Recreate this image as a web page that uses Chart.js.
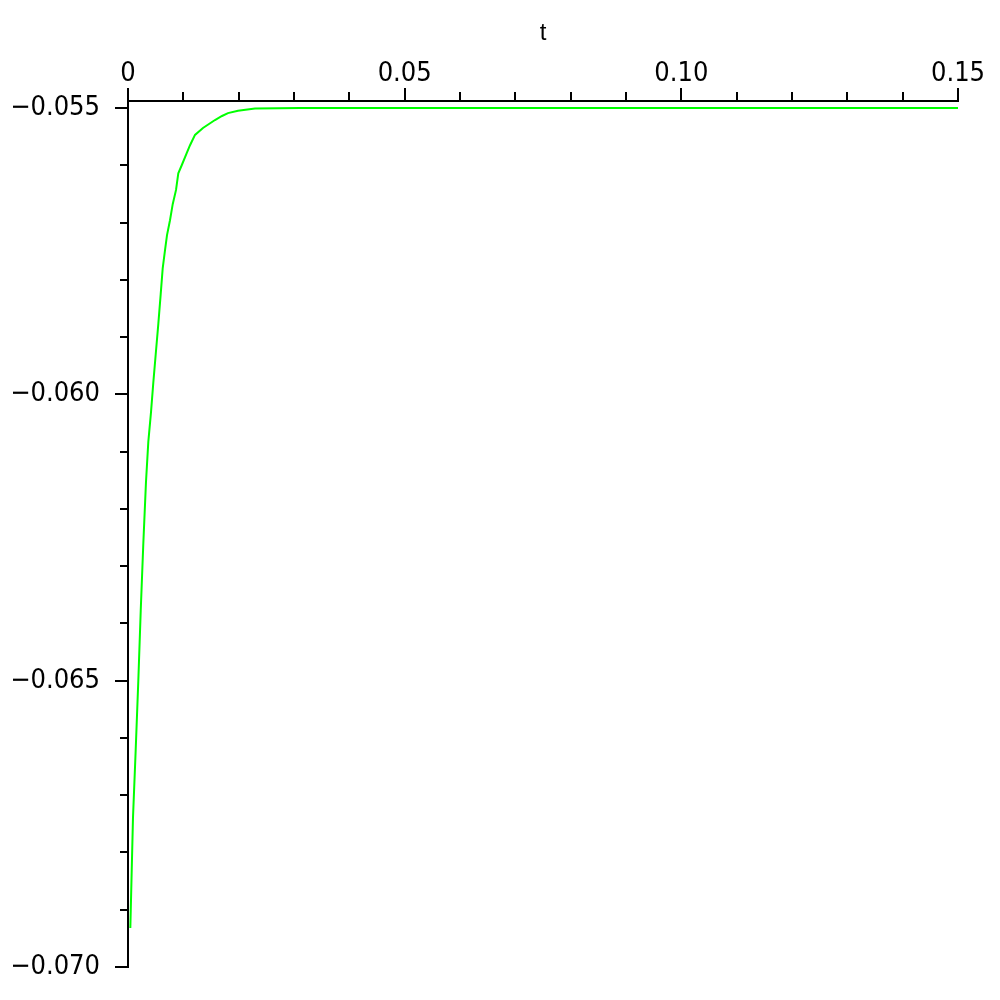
<!doctype html>
<html lang="en">

<head>
  <meta charset="utf-8">
  <title>t plot</title>
  <style>
    html, body { margin: 0; padding: 0; background: #fff; overflow: hidden; }
    canvas { display: block; }
  </style>
</head>

<body>

  <canvas id="plot" width="1000" height="1000"></canvas>

  <script src="https://cdn.jsdelivr.net/npm/chart.js"></script>

  <script>

    // curve (t, value)
    const tValues = [0.00042, 0.00090, 0.00139, 0.00186, 0.00230, 0.00277, 0.00325, 0.00367,
      0.00416, 0.00457, 0.00501, 0.00548, 0.00591, 0.00627, 0.00669, 0.00705, 0.00759, 0.00808,
      0.00868, 0.00909, 0.00971, 0.01061, 0.01121, 0.01211, 0.01355, 0.01572, 0.01699, 0.01807,
      0.01988, 0.02295, 0.03108, 0.15];
    const yValues = [-0.06932, -0.06740, -0.06621, -0.06501, -0.06378, -0.06260, -0.06153, -0.06083,
      -0.06031, -0.05980, -0.05930, -0.05877, -0.05825, -0.05780, -0.05748, -0.05722, -0.05696, -0.05668,
      -0.05643, -0.05614, -0.05600, -0.05579, -0.05565, -0.05547, -0.05535, -0.05521, -0.05514, -0.05509,
      -0.05505, -0.05501, -0.05500, -0.05500];

    const xTickValues = [0, 0.05, 0.10, 0.15];
    const xTickLabels = ['0', '0.05', '0.10', '0.15'];
    const yTickValues = [-0.070, -0.065, -0.060, -0.055];
    const yTickLabels = ['\u22120.070', '\u22120.065', '\u22120.060', '\u22120.055'];

    const labelFont = { family: "'DejaVu Sans Condensed', 'DejaVu Sans', sans-serif", size: 27 };

    // maple style tick marks: long at labelled values, short in between
    const tickMarks = {
      id: 'tickMarks',
      afterDraw(chart) {
        const ctx = chart.ctx;
        const xs = chart.scales.x;
        const ys = chart.scales.y;
        const area = chart.chartArea;
        ctx.save();
        ctx.strokeStyle = '#000';
        ctx.lineWidth = 2;
        ctx.beginPath();
        for (let i = 0; i <= 15; i++) {
          const v = i * 0.01;
          const px = Math.round(xs.getPixelForValue(v));
          const len = (i % 5 == 0) ? 13 : 9;
          ctx.moveTo(px, area.top);
          ctx.lineTo(px, area.top - len);
        }
        for (let i = 0; i <= 15; i++) {
          const v = -0.070 + i * 0.001;
          const py = Math.round(ys.getPixelForValue(v));
          const len = (i % 5 == 0) ? 13 : 8;
          ctx.moveTo(area.left, py);
          ctx.lineTo(area.left - len, py);
        }
        ctx.stroke();
        ctx.restore();
      }
    };

    const ctx = document.getElementById('plot');
    const chart = new Chart(ctx, {
      type: 'line',
      data: {
        datasets: [
          {
            data: tValues.map((t, i) => ({ x: t, y: yValues[i] })),
            borderColor: 'rgb(0, 255, 0)',
            borderWidth: 2,
            pointRadius: 0,
            tension: 0,
            fill: false
          }
        ]
      },
      plugins: [tickMarks],
      options: {
        responsive: false,
        animation: false,
        layout: {
          padding: { left: 0, top: 0, right: 42, bottom: 33 }
        },
        scales: {
          x: {
            type: 'linear',
            position: 'top',
            min: 0,
            max: 0.15,
            grid: { display: false, drawTicks: false },
            border: { display: true, color: '#000', width: 2 },
            afterBuildTicks: (scale) => {
              scale.ticks = xTickValues.map(v => ({ value: v }));
            },
            afterFit: (scale) => {
              scale.height = 101;
              scale.paddingLeft = 0;
              scale.paddingRight = 0;
            },
            ticks: {
              color: '#000',
              font: labelFont,
              padding: 11,
              maxRotation: 0,
              autoSkip: false,
              callback: function (value, index) {
                return xTickLabels[index];
              }
            },
            title: {
              display: true,
              text: 't',
              color: '#000',
              font: { family: "'Liberation Sans', sans-serif", size: 24 },
              padding: { top: 19, bottom: 0 }
            }
          },
          y: {
            type: 'linear',
            min: -0.070,
            max: -0.054878,
            grid: { display: false, drawTicks: false },
            border: { display: true, color: '#000', width: 2 },
            afterBuildTicks: (scale) => {
              scale.ticks = yTickValues.map(v => ({ value: v }));
            },
            afterFit: (scale) => {
              scale.width = 128;
              scale.paddingTop = 0;
              scale.paddingBottom = 0;
            },
            ticks: {
              color: '#000',
              font: labelFont,
              padding: 28,
              autoSkip: false,
              callback: function (value, index) {
                return yTickLabels[index];
              }
            }
          }
        },
        plugins: {
          legend: { display: false },
          tooltip: { enabled: false }
        }
      }
    });
  </script>

</body>

</html>
